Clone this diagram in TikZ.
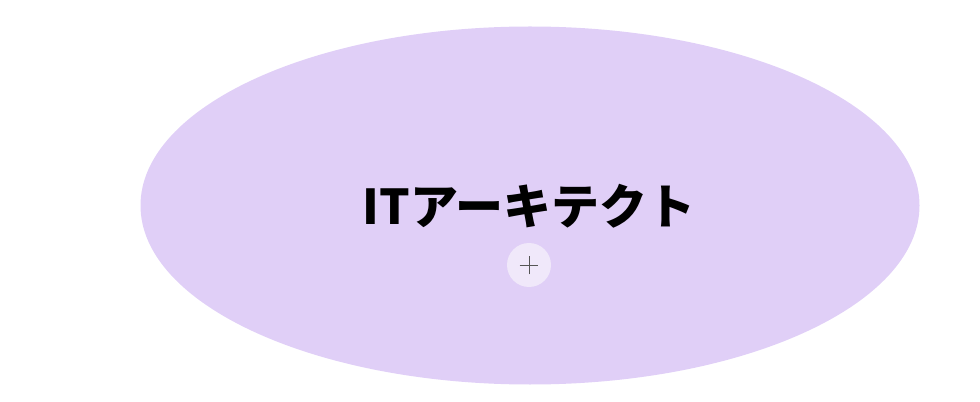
\documentclass[tikz,border=0pt]{standalone}
\usepackage{fontspec}
\usepackage{xcolor}
\usepackage{tikz}
\usetikzlibrary{shapes.geometric}
\newfontfamily\jpfont{Noto Sans CJK JP}

\definecolor{archfill}{HTML}{E0CFF7}
\definecolor{addfill}{HTML}{F0E8FA}
\definecolor{addline}{HTML}{555555}

\begin{document}
\begin{tikzpicture}[x=0.75pt, y=-0.75pt,
    rolebubble/.style={ellipse, fill=archfill, minimum width=779*0.75pt, minimum height=358*0.75pt, inner sep=0pt},
    addbutton/.style={circle, fill=addfill, minimum size=44*0.75pt, inner sep=0pt}]
\useasboundingbox (0,0) rectangle (980,402);
\node[rolebubble] (role) at (530,205.5) {};
\node[font=\jpfont\bfseries\fontsize{36pt}{42pt}\selectfont] (title) at (529,206) {ITアーキテクト};
\node[addbutton] (add) at (529,265) {};
\draw[addline, line width=0.6pt] ([xshift=-7pt]add.center) -- ([xshift=7pt]add.center)
    ([yshift=-7pt]add.center) -- ([yshift=7pt]add.center);
\end{tikzpicture}
\end{document}
